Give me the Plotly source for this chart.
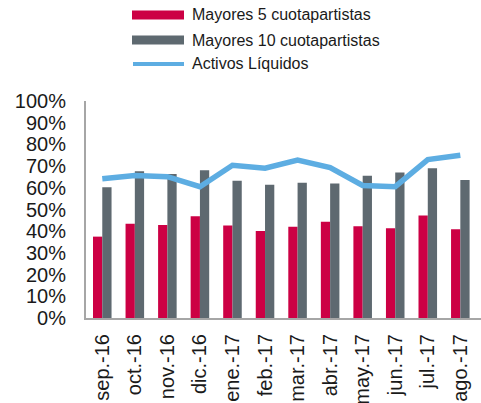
import plotly.graph_objects as go

categories = ["sep.-16", "oct.-16", "nov.-16", "dic.-16", "ene.-17", "feb.-17",
              "mar.-17", "abr.-17", "may.-17", "jun.-17", "jul.-17", "ago.-17"]
mayores5 = [37.5, 43.4, 42.9, 46.9, 42.6, 40.1, 42.1, 44.3, 42.3, 41.4, 47.2, 40.9]
mayores10 = [60.3, 67.6, 66.4, 68.1, 63.3, 61.4, 62.3, 62.0, 65.6, 67.1, 69.0, 63.6]
activos = [64.2, 65.7, 65.1, 60.5, 70.4, 69.0, 72.8, 69.3, 61.1, 60.5, 73.0, 75.0]
yticks = list(range(0, 101, 10))
yticklabels = [f"{v}%" for v in yticks]

names = ["Mayores 5 cuotapartistas", "Mayores 10 cuotapartistas", "Activos Líquidos"]
RED = "#cc0044"
GRAY = "#5e6970"
BLUE = "#5dade2"
FONT = "Liberation Sans, Arial, sans-serif"

fig = go.Figure()
fig.add_trace(go.Bar(x=categories, y=mayores5, name=names[0], marker_color=RED,
                     marker_line_width=0, showlegend=False))
fig.add_trace(go.Bar(x=categories, y=mayores10, name=names[1], marker_color=GRAY,
                     marker_line_width=0, showlegend=False))
fig.add_trace(go.Scatter(x=categories, y=activos, name=names[2], mode="lines",
                         line=dict(color=BLUE, width=5.5), showlegend=False))

W, H = 481, 403
# manual legend (paper coordinates derived from pixel layout)
ml, mr, mt, mb = 86, 0, 101, 85
pw, ph = W - ml - mr, H - mt - mb

def px(x):
    return (x - ml) / pw

def py(y):
    return 1 - (y - mt) / ph

shapes = []
annotations = []
rows = [15, 40, 64]
for i, (nm, col) in enumerate(zip(names, [RED, GRAY, BLUE])):
    yc = rows[i]
    if i < 2:
        shapes.append(dict(type="rect", xref="paper", yref="paper",
                           x0=px(132), x1=px(184), y0=py(yc + 4.5), y1=py(yc - 4.5),
                           fillcolor=col, line_width=0))
    else:
        shapes.append(dict(type="line", xref="paper", yref="paper",
                           x0=px(133), x1=px(184), y0=py(yc), y1=py(yc),
                           line=dict(color=col, width=4)))
    annotations.append(dict(text=nm, xref="paper", yref="paper", x=px(190), y=py(yc),
                            xanchor="left", yanchor="middle", showarrow=False,
                            font=dict(size=16, color="#1a1a1a", family=FONT)))

fig.update_layout(
    width=W, height=H,
    margin=dict(l=ml, r=mr, t=mt, b=mb, autoexpand=False),
    paper_bgcolor="white", plot_bgcolor="white",
    barmode="group", bargap=0.43, bargroupgap=0,
    font=dict(family=FONT, size=20, color="#1a1a1a"),
    shapes=shapes, annotations=annotations,
    showlegend=False,
)
fig.update_xaxes(type="category", range=[-0.5, 11.635], showline=True, linecolor="#a6a6a6",
                 linewidth=2, showgrid=False, ticks="", tickangle=-90, automargin=False,
                 tickfont=dict(size=20), ticklabelstandoff=6)
fig.update_yaxes(range=[0, 100], tickmode="array", tickvals=yticks, ticktext=yticklabels,
                 showline=True, automargin=False,
                 linecolor="#a6a6a6", linewidth=2, showgrid=False, zeroline=False,
                 ticks="", tickfont=dict(size=20), ticklabelstandoff=14)

fig.write_html("out.html", config={"displayModeBar": False},
               post_script="document.body.style.margin='0';")
